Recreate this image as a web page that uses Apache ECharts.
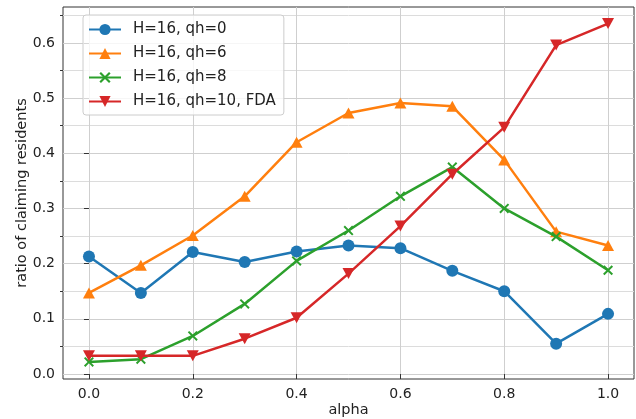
<!DOCTYPE html>
<html>
<head>
<meta charset="utf-8">
<script src="https://cdn.jsdelivr.net/npm/echarts@6/dist/echarts.min.js"></script>
<style>html,body{margin:0;padding:0;background:#fff}#c{width:636px;height:419px}</style>
</head>
<body>
<div id="c"></div>
<script>
const alphas = [0.0, 0.1, 0.2, 0.3, 0.4, 0.5, 0.6, 0.7, 0.8, 0.9, 1.0];
const qh0  = [0.213, 0.147, 0.221, 0.203, 0.222, 0.233, 0.228, 0.187, 0.150, 0.055, 0.109];
const qh6  = [0.147, 0.197, 0.251, 0.322, 0.420, 0.473, 0.491, 0.485, 0.388, 0.258, 0.233];
const qh8  = [0.022, 0.027, 0.069, 0.127, 0.205, 0.260, 0.322, 0.375, 0.300, 0.249, 0.188];
const qh10 = [0.033, 0.033, 0.033, 0.064, 0.102, 0.182, 0.268, 0.362, 0.447, 0.596, 0.635];
const seriesNames = ['H=16, qh=0', 'H=16, qh=6', 'H=16, qh=8', 'H=16, qh=10, FDA'];
const xTicks = [0.0, 0.2, 0.4, 0.6, 0.8, 1.0];
const yTicks = [0.0, 0.1, 0.2, 0.3, 0.4, 0.5, 0.6];
const yMinorTicks = [0.05, 0.15, 0.25, 0.35, 0.45, 0.55, 0.65];

const FONT = 'DejaVu Sans';
const xPath = 'path://M0,1.4L1.4,0L5,3.6L8.6,0L10,1.4L6.4,5L10,8.6L8.6,10L5,6.4L1.4,10L0,8.6L3.6,5Z';
const colors = ['#1f77b4', '#ff7f0e', '#2ca02c', '#d62728'];
const symbols = ['circle', 'triangle', xPath, 'triangle'];
const symSizes = [12, [12, 11], 10, [12, 11]];
const rotates = [0, 0, 0, 180];
const dataSets = [qh0, qh6, qh8, qh10];

const chart = echarts.init(document.getElementById('c'), null, {renderer: 'canvas'});
const series = dataSets.map((d, i) => ({
  name: seriesNames[i],
  type: 'line',
  data: alphas.map((a, j) => [a, d[j]]),
  symbol: symbols[i],
  symbolSize: symSizes[i],
  symbolRotate: rotates[i],
  showAllSymbol: true,
  animation: false,
  lineStyle: {color: colors[i], width: 2.5},
  itemStyle: {color: colors[i], borderWidth: 0},
  z: 3 + i
}));

chart.setOption({
  animation: false,
  color: colors,
  grid: {left: 63, right: 2, top: 7, bottom: 40, containLabel: false, outerBoundsMode: 'none',
         show: true, borderColor: '#333', borderWidth: 1, backgroundColor: 'transparent'},
  legend: {
    orient: 'vertical', left: 83, top: 15,
    padding: [7, 8, 6, 5],
    itemWidth: 32, itemHeight: 14, itemGap: 9,
    backgroundColor: 'rgba(255,255,255,0.8)',
    borderColor: '#cccccc', borderWidth: 1, borderRadius: 3,
    textStyle: {fontFamily: FONT, fontSize: 15, color: '#222', padding: [0, 0, 0, 7]},
    data: seriesNames
  },
  xAxis: {
    type: 'value', min: -0.05, max: 1.05,
    name: 'alpha', nameLocation: 'middle', nameGap: 24, nameMoveOverlap: false,
    nameTextStyle: {fontFamily: FONT, fontSize: 14.5, color: '#222'},
    axisLine: {show: false},
    axisTick: {show: true, inside: false, length: 5, customValues: xTicks, lineStyle: {color: '#333'}},
    axisLabel: {customValues: xTicks, fontFamily: FONT, fontSize: 14, color: '#222', margin: 8, formatter: v => v.toFixed(1)},
    splitLine: {show: true, lineStyle: {color: '#cfcfcf', width: 1}}
  },
  yAxis: [{
    type: 'value', min: -0.009, max: 0.665,
    name: 'ratio of claiming residents', nameLocation: 'middle', nameGap: 33, nameRotate: 90, nameMoveOverlap: false,
    nameTextStyle: {fontFamily: FONT, fontSize: 14.5, color: '#222'},
    axisLine: {show: false},
    axisTick: {show: true, length: 5, customValues: yTicks, lineStyle: {color: '#333'}},
    axisLabel: {customValues: yTicks, fontFamily: FONT, fontSize: 14, color: '#222', margin: 8, formatter: v => v.toFixed(1)},
    splitLine: {show: true, lineStyle: {color: '#cfcfcf', width: 1}}
  }, {
    type: 'value', min: -0.009, max: 0.665, position: 'left', offset: 0,
    axisLine: {show: false},
    axisTick: {show: true, length: 3, customValues: yMinorTicks, lineStyle: {color: '#333'}},
    axisLabel: {show: false},
    splitLine: {show: true, lineStyle: {color: '#dcdcdc', width: 1}}
  }],
  series: series
});
</script>
</body>
</html>
